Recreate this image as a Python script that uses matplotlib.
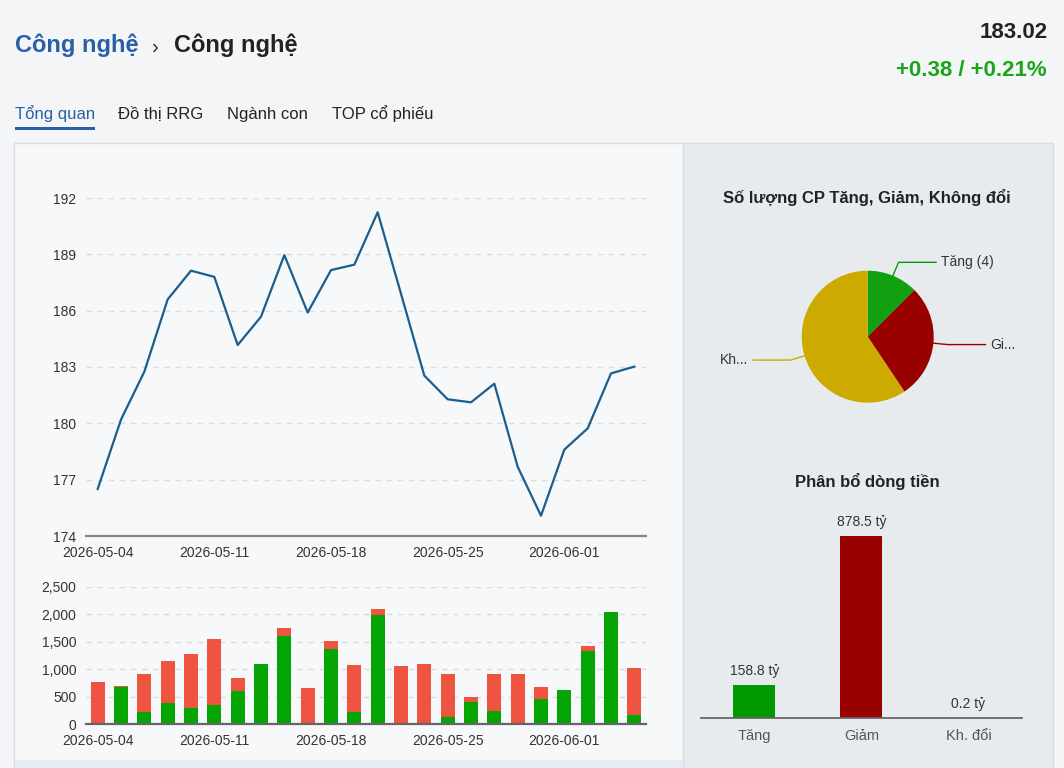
import numpy as np
import pandas as pd
import matplotlib
matplotlib.use("Agg")
import matplotlib.pyplot as plt
from matplotlib.patches import Rectangle
from matplotlib.ticker import FuncFormatter

plt.rcParams['font.family'] = ['Liberation Sans', 'DejaVu Sans']

# ---- data ----
dates = pd.bdate_range("2026-05-04", "2026-06-04").strftime("%Y-%m-%d").tolist()
close = [176.5, 180.2, 182.75, 186.6, 188.13, 187.8, 184.17, 185.68, 188.96, 185.9,
         188.16, 188.45, 191.24, 186.9, 182.54, 181.28, 181.12, 182.11, 177.69, 175.08,
         178.6, 179.73, 182.66, 183.02]
vol_up = [0, 670, 220, 390, 300, 355, 610, 1100, 1610, 0, 1370, 220, 1985, 0, 10, 120,
          395, 245, 0, 460, 620, 1330, 2040, 165]
vol_down = [760, 15, 695, 755, 980, 1205, 225, 0, 135, 655, 145, 850, 120, 1050, 1080,
            790, 105, 675, 920, 220, 0, 100, 0, 865]
tick_idx = [0, 5, 10, 15, 20]

pie_labels = ["Tăng (4)", "Gi...", "Kh..."]
pie_counts = [4, 9, 19]
pie_colors = ["#10a010", "#990000", "#ccaa00"]

flow_cats = ["Tăng", "Giảm", "Kh. đổi"]
flow_vals = [158.8, 878.5, 0.2]
flow_colors = ["#009900", "#990000", "#888888"]

W, H = 1064, 768
BG = "#f4f5f7"
LINE = "#1b5e8c"
GREEN = "#04a504"
RED = "#ef5441"
GRID = "#d8dce1"
TXT = "#333333"


def rect(l, t, r, b):
    return [l / W, 1 - b / H, (r - l) / W, (b - t) / H]


fig = plt.figure(figsize=(W / 100, H / 100), dpi=100)
fig.patch.set_facecolor(BG)

# panels
fig.add_artist(Rectangle((14 / W, 0), (683 - 14) / W, 1 - 143 / H, transform=fig.transFigure,
                         facecolor="#f6f8fa", edgecolor="#d9dde2", lw=1, zorder=-2))
fig.add_artist(Rectangle((683 / W, 0), (1053 - 683) / W, 1 - 143 / H, transform=fig.transFigure,
                         facecolor="#e8ebee", edgecolor="#d9dde2", lw=1, zorder=-2))
fig.add_artist(Rectangle((15 / W, 0), (682 - 15) / W, 8 / H, transform=fig.transFigure,
                         facecolor="#e6ecf5", edgecolor="none", zorder=-1))

# header
fig.text(15 / W, 1 - 45 / H, "Công nghệ", color="#2a5ea8", fontsize=17, fontweight="bold", va="center")
fig.text(151 / W, 1 - 47 / H, "›", color="#333333", fontsize=15, va="center")
fig.text(174 / W, 1 - 45 / H, "Công nghệ", color="#222222", fontsize=17, fontweight="bold", va="center")
fig.text(1048 / W, 1 - 32 / H, "183.02", color="#222222", fontsize=16, fontweight="bold",
         va="center", ha="right")
fig.text(1047 / W, 1 - 71 / H, "+0.38 / +0.21%", color="#1aa51a", fontsize=16, fontweight="bold",
         va="center", ha="right")
tabs = ["Tổng quan", "Đồ thị RRG", "Ngành con", "TOP cổ phiếu"]
tab_x = [15, 118, 227, 332]
for name, x in zip(tabs, tab_x):
    fig.text(x / W, 1 - 114 / H, name, color="#2a5ea8" if x == 15 else "#222222",
             fontsize=12, va="center")
fig.add_artist(Rectangle((15 / W, 1 - 130 / H), 80 / W, 3 / H, transform=fig.transFigure,
                         facecolor="#2a5ea8", edgecolor="none"))

# ---- price line ----
x = np.arange(len(close))
ax = fig.add_axes(rect(86, 198, 646, 536))
ax.set_facecolor("none")
ax.plot(x, close, color=LINE, lw=1.6)
ax.set_xlim(-0.5, len(close) - 0.5)
ax.set_ylim(174, 192)
ax.set_yticks(np.arange(174, 193, 3))
ax.set_xticks(tick_idx)
ax.set_xticklabels([dates[i] for i in tick_idx])
ax.grid(axis="y", color=GRID, ls=(0, (4, 4)), lw=1)
ax.set_axisbelow(True)
for s in ["top", "right", "left"]:
    ax.spines[s].set_visible(False)
ax.spines["bottom"].set_color("#888888")
ax.spines["bottom"].set_linewidth(1.6)
ax.tick_params(length=0, labelsize=10, labelcolor=TXT, pad=7)

# ---- volume ----
axv = fig.add_axes(rect(86, 587, 646, 724))
axv.set_facecolor("none")
axv.bar(x, vol_up, width=0.61, color=GREEN)
axv.bar(x, vol_down, width=0.61, bottom=vol_up, color=RED)
axv.set_xlim(-0.5, len(close) - 0.5)
axv.set_ylim(0, 2500)
axv.set_yticks(np.arange(0, 2501, 500))
axv.yaxis.set_major_formatter(FuncFormatter(lambda v, p: f"{int(v):,}"))
axv.set_xticks(tick_idx)
axv.set_xticklabels([dates[i] for i in tick_idx])
axv.grid(axis="y", color=GRID, ls=(0, (4, 4)), lw=1)
axv.set_axisbelow(True)
for s in ["top", "right", "left"]:
    axv.spines[s].set_visible(False)
axv.spines["bottom"].set_color("#666666")
axv.spines["bottom"].set_linewidth(1.6)
axv.tick_params(length=0, labelsize=10, labelcolor=TXT, pad=7)

# ---- pie ----
R = 66
cx, cy = 867.7, 336.7
axp = fig.add_axes(rect(cx - 170, cy - 100, cx + 170, cy + 100))
axp.set_facecolor("none")
wedges, _ = axp.pie(pie_counts, colors=pie_colors, startangle=90, counterclock=False, radius=1)
axp.set_xlim(-170 / R, 170 / R)
axp.set_ylim(-100 / R, 100 / R)
axp.set_aspect("auto")
axp.axis("off")
for w, lab, col in zip(wedges, pie_labels, pie_colors):
    ang = np.deg2rad((w.theta1 + w.theta2) / 2)
    c, s = np.cos(ang), np.sin(ang)
    p2 = (1.22 * c, 1.22 * s)
    sgn = 1 if c >= 0 else -1
    p3 = (p2[0] + sgn * 0.57, p2[1])
    lc = "#0a9a0a" if col == pie_colors[0] else col
    axp.plot([c, p2[0], p3[0]], [s, p2[1], p3[1]], color=lc, lw=1, clip_on=False)
    axp.text(p3[0] + sgn * 0.08, p3[1], lab, fontsize=10, color=TXT, va="center",
             ha="left" if sgn > 0 else "right")
fig.text(867 / W, 1 - 198 / H, "Số lượng CP Tăng, Giảm, Không đổi", fontsize=12,
         fontweight="bold", color="#222222", ha="center", va="center")

# ---- money flow ----
axb = fig.add_axes(rect(700.7, 500, 1022, 718.3))
axb.set_facecolor("none")
bars = axb.bar(np.arange(len(flow_vals)), flow_vals, width=0.39, color=flow_colors)
axb.set_xlim(-0.5, 2.5)
axb.set_ylim(0, 1050)
axb.set_xticks(np.arange(len(flow_cats)))
axb.set_xticklabels(flow_cats)
axb.set_yticks([])
for s in ["top", "right", "left"]:
    axb.spines[s].set_visible(False)
axb.spines["bottom"].set_color("#666666")
axb.spines["bottom"].set_linewidth(1.3)
axb.tick_params(length=0, labelsize=10.5, labelcolor="#555555", pad=8)
for b, v in zip(bars, flow_vals):
    axb.annotate(f"{v} tỷ", (b.get_x() + b.get_width() / 2, v), xytext=(0, 5),
                 textcoords="offset points", ha="center", va="bottom", fontsize=10, color=TXT)
fig.text(867 / W, 1 - 482 / H, "Phân bổ dòng tiền", fontsize=12, fontweight="bold",
         color="#222222", ha="center", va="center")

fig.savefig("out.png", dpi=100, facecolor=fig.get_facecolor())
